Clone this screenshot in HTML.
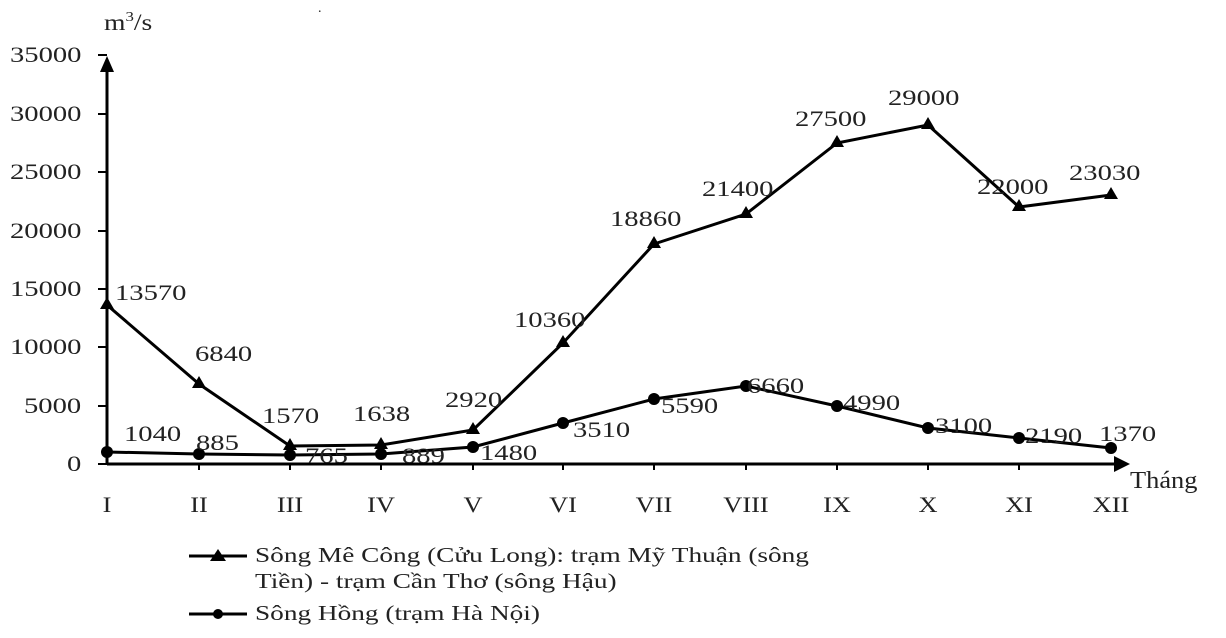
<!DOCTYPE html>
<html><head><meta charset="utf-8"><style>
html,body{margin:0;padding:0;background:#fff;}
svg text{font-family:"Liberation Serif","Noto Serif CJK SC",serif;fill:#222;}
</style></head><body>
<svg width="1226" height="633" viewBox="0 0 1226 633" xmlns="http://www.w3.org/2000/svg">
<text transform="translate(104,30) scale(1.2,1)" font-size="23">m<tspan font-size="14" dy="-9">3</tspan><tspan dy="9">/s</tspan></text>
<text x="318" y="12" font-size="14">.</text>
<g font-size="22">
<text transform="translate(10,62) scale(1.3,1)">35000</text><text transform="translate(10,121) scale(1.3,1)">30000</text><text transform="translate(10,179) scale(1.3,1)">25000</text>
<text transform="translate(10,238) scale(1.3,1)">20000</text><text transform="translate(10,296) scale(1.3,1)">15000</text><text transform="translate(10,354) scale(1.3,1)">10000</text>
<text transform="translate(24,413) scale(1.3,1)">5000</text><text transform="translate(67,471) scale(1.3,1)">0</text>
</g>
<g stroke="#000" stroke-width="2">
<line x1="98" y1="55" x2="107" y2="55"/><line x1="98" y1="114" x2="107" y2="114"/><line x1="98" y1="172" x2="107" y2="172"/>
<line x1="98" y1="231" x2="107" y2="231"/><line x1="98" y1="289" x2="107" y2="289"/><line x1="98" y1="347" x2="107" y2="347"/>
<line x1="98" y1="406" x2="107" y2="406"/><line x1="98" y1="464" x2="107" y2="464"/>
</g>
<line x1="107" y1="464" x2="107" y2="62" stroke="#000" stroke-width="3"/>
<path d="M100,72 L107,56 L114,72z" fill="#000"/>
<line x1="107" y1="464" x2="1120" y2="464" stroke="#000" stroke-width="3"/>
<path d="M1114,456 L1130,464 L1114,472z" fill="#000"/>
<g stroke="#000" stroke-width="2">
<line x1="199" y1="464" x2="199" y2="470"/><line x1="290" y1="464" x2="290" y2="470"/><line x1="381" y1="464" x2="381" y2="470"/>
<line x1="473" y1="464" x2="473" y2="470"/><line x1="563" y1="464" x2="563" y2="470"/><line x1="654" y1="464" x2="654" y2="470"/>
<line x1="746" y1="464" x2="746" y2="470"/><line x1="837" y1="464" x2="837" y2="470"/><line x1="928" y1="464" x2="928" y2="470"/>
<line x1="1019" y1="464" x2="1019" y2="470"/>
</g>
<text transform="translate(1130,488) scale(1.1,1)" font-size="24">Tháng</text>
<g font-size="22" text-anchor="middle">
<text transform="translate(107,512) scale(1.2,1)">I</text><text transform="translate(199,512) scale(1.2,1)">II</text><text transform="translate(290,512) scale(1.2,1)">III</text><text transform="translate(381,512) scale(1.2,1)">IV</text>
<text transform="translate(473,512) scale(1.2,1)">V</text><text transform="translate(563,512) scale(1.2,1)">VI</text><text transform="translate(654,512) scale(1.2,1)">VII</text><text transform="translate(746,512) scale(1.2,1)">VIII</text>
<text transform="translate(837,512) scale(1.2,1)">IX</text><text transform="translate(928,512) scale(1.2,1)">X</text><text transform="translate(1019,512) scale(1.2,1)">XI</text><text transform="translate(1111,512) scale(1.2,1)">XII</text>
</g>
<polyline fill="none" stroke="#000" stroke-width="3" points="107,305 199,384 290,446 381,445 473,430 563,343 654,244 746,214 837,143 928,125 1019,207 1111,195"/>
<g fill="#000">
<path d="M107,297 l-7,12 h14z"/><path d="M199,376 l-7,12 h14z"/><path d="M290,438 l-7,12 h14z"/><path d="M381,437 l-7,12 h14z"/>
<path d="M473,422 l-7,12 h14z"/><path d="M563,335 l-7,12 h14z"/><path d="M654,236 l-7,12 h14z"/><path d="M746,206 l-7,12 h14z"/>
<path d="M837,135 l-7,12 h14z"/><path d="M928,117 l-7,12 h14z"/><path d="M1019,199 l-7,12 h14z"/><path d="M1111,187 l-7,12 h14z"/>
</g>
<polyline fill="none" stroke="#000" stroke-width="3" points="107,452 199,454 290,455 381,454 473,447 563,423 654,399 746,386 837,406 928,428 1019,438 1111,448"/>
<g fill="#000">
<circle cx="107" cy="452" r="6"/><circle cx="199" cy="454" r="6"/><circle cx="290" cy="455" r="6"/><circle cx="381" cy="454" r="6"/>
<circle cx="473" cy="447" r="6"/><circle cx="563" cy="423" r="6"/><circle cx="654" cy="399" r="6"/><circle cx="746" cy="386" r="6"/>
<circle cx="837" cy="406" r="6"/><circle cx="928" cy="428" r="6"/><circle cx="1019" cy="438" r="6"/><circle cx="1111" cy="448" r="6"/>
</g>
<g font-size="22">
<text transform="translate(115,300) scale(1.3,1)">13570</text><text transform="translate(195,361) scale(1.3,1)">6840</text><text transform="translate(262,423) scale(1.3,1)">1570</text><text transform="translate(353,421) scale(1.3,1)">1638</text>
<text transform="translate(445,407) scale(1.3,1)">2920</text><text transform="translate(514,327) scale(1.3,1)">10360</text><text transform="translate(610,226) scale(1.3,1)">18860</text><text transform="translate(702,196) scale(1.3,1)">21400</text>
<text transform="translate(795,126) scale(1.3,1)">27500</text><text transform="translate(888,105) scale(1.3,1)">29000</text><text transform="translate(977,194) scale(1.3,1)">22000</text><text transform="translate(1069,180) scale(1.3,1)">23030</text>
<text transform="translate(124,441) scale(1.3,1)">1040</text><text transform="translate(196,450) scale(1.3,1)">885</text><text transform="translate(305,463) scale(1.3,1)">765</text><text transform="translate(402,463) scale(1.3,1)">889</text>
<text transform="translate(480,460) scale(1.3,1)">1480</text><text transform="translate(573,437) scale(1.3,1)">3510</text><text transform="translate(661,413) scale(1.3,1)">5590</text><text transform="translate(747,393) scale(1.3,1)">6660</text>
<text transform="translate(843,410) scale(1.3,1)">4990</text><text transform="translate(935,433) scale(1.3,1)">3100</text><text transform="translate(1025,443) scale(1.3,1)">2190</text><text transform="translate(1099,441) scale(1.3,1)">1370</text>
</g>
<line x1="189" y1="556" x2="247" y2="556" stroke="#000" stroke-width="3"/>
<path d="M218,549 l-8,12 h16z" fill="#000"/>
<line x1="189" y1="614" x2="247" y2="614" stroke="#000" stroke-width="3"/>
<circle cx="218" cy="614" r="5" fill="#000"/>
<g font-size="21">
<text transform="translate(255,562) scale(1.3,1)">Sông Mê Công (Cửu Long): trạm Mỹ Thuận (sông</text>
<text transform="translate(255,588) scale(1.3,1)">Tiền) - trạm Cần Thơ (sông Hậu)</text>
<text transform="translate(255,620) scale(1.3,1)">Sông Hồng (trạm Hà Nội)</text>
</g>
</svg>
</body></html>
